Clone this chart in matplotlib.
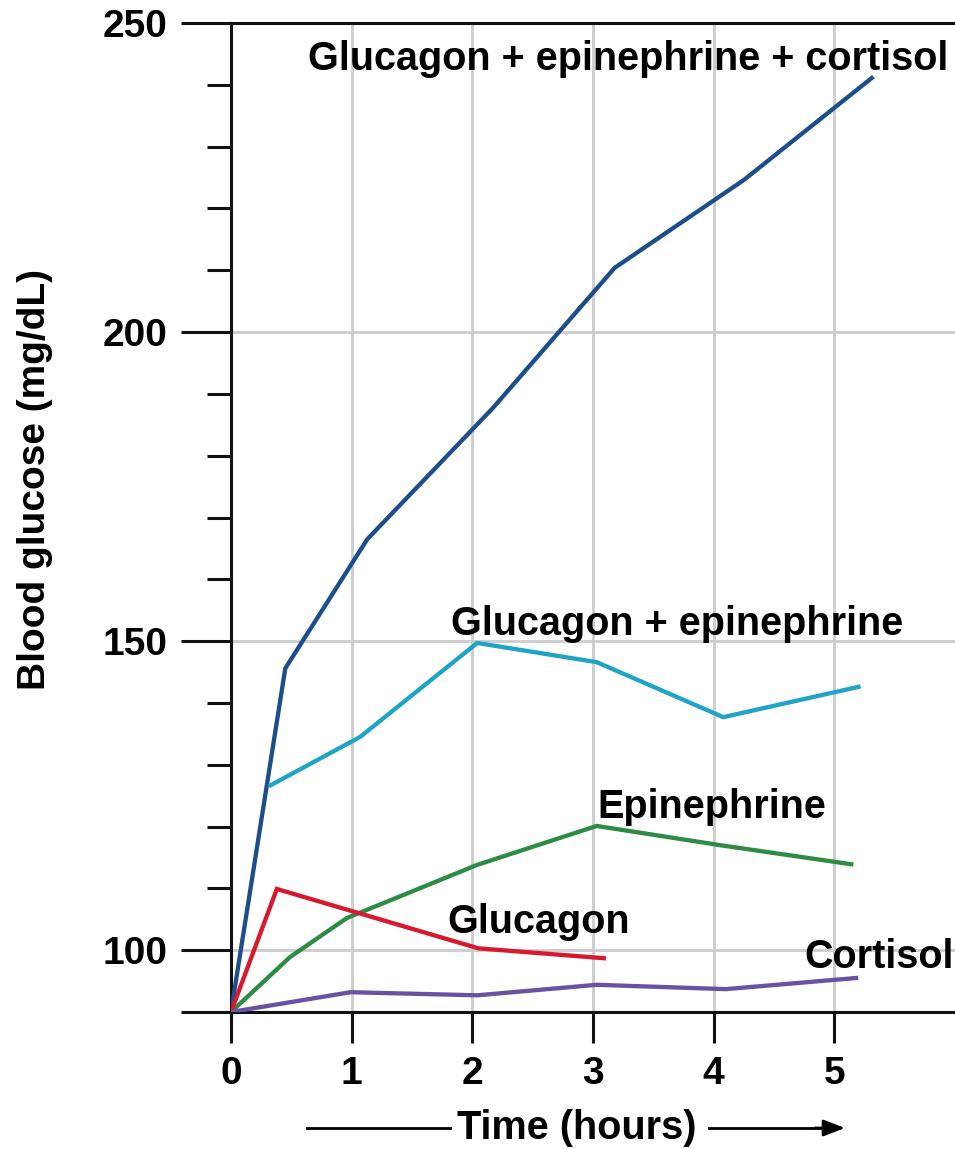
import numpy as np
import matplotlib
matplotlib.use('Agg')
import matplotlib.pyplot as plt
from matplotlib.lines import Line2D

plt.rcParams['font.family'] = ['Liberation Sans', 'DejaVu Sans']
plt.rcParams['font.weight'] = 'bold'

# data (hours, mg/dL)
all_three_x = [0, 0.45, 1.13, 2.17, 3.18, 4.25, 5.31]
all_three_y = [90, 145.6, 166.5, 187.7, 210.4, 224.6, 241.1]

glu_epi_x = [0.33, 1.07, 2.04, 3.03, 4.08, 5.2]
glu_epi_y = [126.7, 134.5, 149.7, 146.6, 137.7, 142.6]

epi_x = [0, 0.49, 0.96, 2.04, 3.03, 4.05, 5.14]
epi_y = [90, 98.9, 105.2, 113.8, 120.1, 117.0, 113.9]

glu_x = [0, 0.38, 2.05, 3.09]
glu_y = [90, 109.9, 100.3, 98.7]

cort_x = [0, 0.99, 2.04, 3.03, 4.1, 5.18]
cort_y = [90, 93.2, 92.7, 94.4, 93.7, 95.5]

series = [
    (all_three_x, all_three_y, '#1c4f8a'),
    (glu_epi_x, glu_epi_y, '#1fa3c6'),
    (epi_x, epi_y, '#2e8b45'),
    (glu_x, glu_y, '#d8182e'),
    (cort_x, cort_y, '#6a52a3'),
]

labels = [
    ('Glucagon + epinephrine + cortisol', 0.64, 242.4),
    ('Glucagon + epinephrine', 1.82, 151.0),
    ('Epinephrine', 3.04, 121.4),
    ('Glucagon', 1.79, 102.75),
    ('Cortisol', 4.75, 97.1),
]

y_major = [90, 100, 150, 200, 250]
y_major_labels = ['', '100', '150', '200', '250']
y_minor = [110, 120, 130, 140, 160, 170, 180, 190, 210, 220, 230, 240]
x_major = [0, 1, 2, 3, 4, 5]

W, H = 955, 1149
fig = plt.figure(figsize=(W / 100, H / 100), dpi=100)
ax = fig.add_axes([231 / W, 1 - 1012 / H, 1 - 231 / W, (1012 - 23) / H])

for xs, ys, c in series:
    ax.plot(xs, ys, color=c, lw=3.1, solid_joinstyle='miter', zorder=3)

for txt, x, y in labels:
    ax.text(x, y, txt, fontsize=28.5, fontweight='bold', ha='left', va='baseline', zorder=4)

ax.set_xlim(0, 6.0)
ax.set_ylim(90, 250)

ax.set_yticks(y_major)
ax.set_yticklabels(y_major_labels)
ax.set_yticks(y_minor, minor=True)
ax.set_xticks(x_major)

for x in x_major[1:]:
    ax.axvline(x, color='#cccccc', lw=2, zorder=1)
for y in [100, 150, 200]:
    ax.axhline(y, color='#cccccc', lw=2, zorder=1)

ax.spines['right'].set_visible(False)
for s in ['left', 'bottom', 'top']:
    ax.spines[s].set_linewidth(2.2)
    ax.spines[s].set_color('#111111')

ax.tick_params(axis='y', which='major', direction='out', length=36, width=2.2,
               pad=10, labelsize=28, color='#111111')
ax.tick_params(axis='y', which='minor', direction='out', length=17, width=2.2,
               color='#111111')
ax.tick_params(axis='x', which='major', direction='out', length=22, width=2.2,
               pad=10, labelsize=28, color='#111111')
for lab in ax.get_xticklabels() + ax.get_yticklabels():
    lab.set_fontweight('bold')

fig.text(35 / W, 1 - 479 / H, 'Blood glucose (mg/dL)', rotation=90,
         fontsize=28, fontweight='bold', ha='center', va='center')

ty = 1 - 1128 / H
fig.text(577 / W, ty, 'Time (hours)', fontsize=28.5, fontweight='bold',
         ha='center', va='center')
fig.add_artist(Line2D([307 / W, 450 / W], [ty, ty], color='black', lw=2,
                      transform=fig.transFigure))
fig.add_artist(Line2D([709 / W, 822 / W], [ty, ty], color='black', lw=2,
                      transform=fig.transFigure))
ax.annotate('', xy=(845 / W, ty), xytext=(815 / W, ty),
            xycoords='figure fraction', textcoords='figure fraction',
            arrowprops=dict(arrowstyle='-|>,head_length=1.3,head_width=0.5',
                            color='black', lw=2, shrinkA=0, shrinkB=0))

fig.savefig('out.png', dpi=100)
